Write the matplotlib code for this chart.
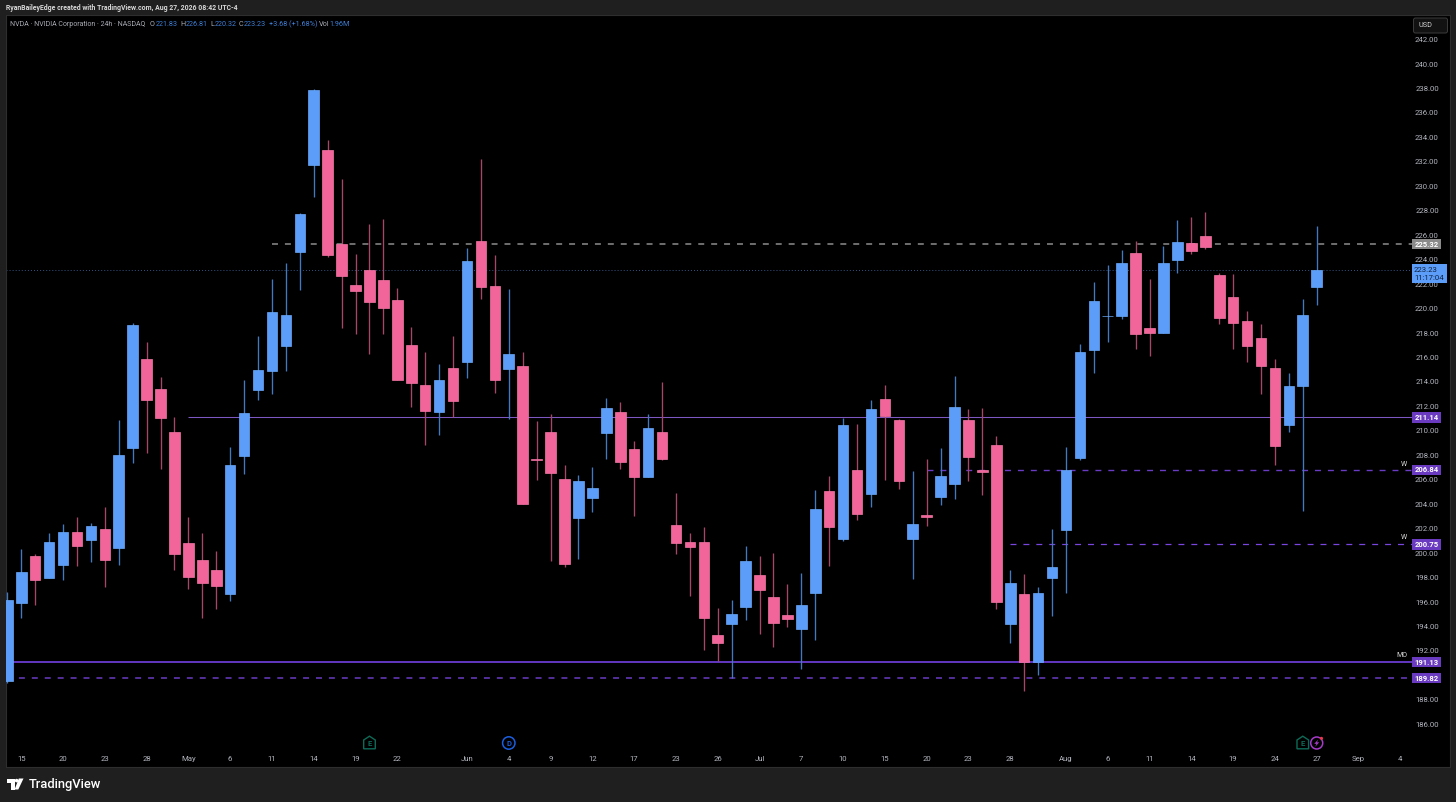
import numpy as np
import matplotlib
matplotlib.use("Agg")
import matplotlib.pyplot as plt
from matplotlib.patches import Rectangle, Polygon, Circle, FancyBboxPatch

plt.rcParams['lines.scale_dashes'] = False
plt.rcParams['font.family'] = ['Roboto', 'DejaVu Sans']

highs = [196.88,200.40,199.97,201.69,202.40,202.97,202.50,203.81,210.93,218.86,
         217.31,214.45,211.17,202.99,201.69,200.21,208.70,214.20,217.80,222.46,
         223.77,227.88,237.98,233.80,230.64,224.51,226.96,227.39,221.72,218.51,
         216.51,215.51,217.80,225.00,232.30,224.42,221.62,216.51,210.85,211.42,
         207.25,206.43,207.06,212.70,212.43,209.21,211.39,214.04,204.96,201.69,
         202.15,195.55,196.18,200.62,199.80,200.05,197.51,198.39,205.20,206.35,
         211.12,210.58,212.54,213.82,210.99,206.76,207.74,208.61,214.53,211.85,
         211.91,209.62,198.66,198.31,197.25,202.01,208.72,217.12,222.24,223.63,
         224.81,225.57,222.46,225.16,227.26,227.51,227.92,222.95,222.87,219.84,
         218.76,215.92,214.77,220.82,226.81]
lows = [189.42,194.76,195.80,198.03,197.82,199.01,199.34,197.25,199.07,207.39,
        208.23,206.95,198.68,197.11,194.76,195.49,196.15,206.54,212.56,213.03,
        214.96,221.59,229.19,224.28,218.43,217.94,216.30,217.99,214.20,212.02,
        208.88,209.70,211.15,214.34,220.85,213.16,211.03,204.03,206.00,199.37,
        198.88,199.56,203.43,207.74,206.95,203.08,206.24,207.66,199.99,196.56,
        192.12,191.22,189.80,194.55,193.45,192.34,193.97,190.59,192.91,198.99,
        201.01,202.77,203.79,206.05,205.28,197.95,202.26,204.00,204.49,205.96,
        204.79,195.47,192.71,188.76,190.10,194.92,196.78,207.68,214.80,217.33,
        219.19,216.76,216.19,218.04,222.98,224.53,224.91,218.76,216.76,215.67,
        213.08,207.25,209.95,203.51,220.32]
opens = [189.58,195.96,199.80,198.03,199.07,201.74,201.14,201.99,200.43,208.61,
         215.89,213.49,209.97,200.84,199.45,198.64,196.72,207.98,213.41,214.91,
         216.98,224.69,231.81,233.01,225.32,221.99,223.17,222.38,220.72,217.04,
         213.82,211.61,215.18,215.65,225.54,221.89,215.07,215.34,207.74,209.92,
         206.10,202.89,204.52,209.86,211.58,208.56,206.24,209.92,202.37,200.97,
         200.93,193.37,194.27,195.66,198.28,196.43,194.95,193.86,196.80,205.12,
         201.22,206.84,204.85,212.62,210.93,201.22,203.16,204.66,205.72,210.93,
         206.86,208.88,194.27,196.70,191.14,198.03,201.93,207.84,216.65,219.41,
         219.46,224.56,218.45,218.04,224.01,225.41,225.98,222.79,220.99,219.03,
         217.63,215.21,210.54,213.73,221.83]
closes = [196.21,198.47,197.87,200.97,201.74,200.65,202.23,199.45,208.09,218.72,
          212.59,211.12,199.99,198.09,197.62,197.38,207.25,211.48,215.02,219.74,
          219.49,227.78,237.89,224.45,222.73,221.50,220.55,220.09,214.22,213.95,
          211.66,214.20,212.46,223.96,221.81,214.22,216.30,204.03,207.69,206.59,
          199.13,205.91,205.39,211.89,207.52,206.29,210.30,207.74,200.87,200.57,
          194.71,192.71,195.09,199.37,197.05,194.35,194.65,195.82,203.62,202.20,
          210.54,203.22,211.80,211.28,205.96,202.42,202.97,206.32,211.99,207.93,
          206.70,196.07,197.60,191.14,196.75,198.93,206.81,216.49,220.66,219.46,
          223.77,217.99,218.04,223.74,225.46,224.73,225.10,219.25,218.86,217.01,
          215.34,208.80,213.68,219.54,223.23]

price_ticks = list(range(186, 244, 2))
date_labels = ['15','20','23','28','May','6','11','14','19','22','Jun','4','9','12','17',
               '23','26','Jul','7','10','15','20','23','28','Aug','6','11','14','19','24',
               '27','Sep','4']
date_index = [1,4,7,10,13,16,19,22,25,28,33,36,39,42,45,48,51,54,57,60,63,66,69,72,76,79,
              82,85,88,91,94,97,100]
level_prices = [225.32, 211.14, 206.84, 200.75, 191.13, 189.82]
level_start = [19, 13, 66, 72, -1, -1]
current_price = 223.23
event_index = [26, 36, 93, 94]

BLUE, PINK = '#5b9df8', '#f2659a'
W, H = 1456, 802
L, R, T, B = 5.5, 1450, 15, 767
fig = plt.figure(figsize=(W/100, H/100), dpi=100, facecolor='#1f1f1f')
ax = fig.add_axes([L/W, 1-B/H, (R-L)/W, (B-T)/H], facecolor='black')
px_per_bar = 13.93
x0 = 7.3
ax.set_xlim((L-x0)/px_per_bar, (R-x0)/px_per_bar)
ax.set_ylim(245.28-0.08179*B, 245.28-0.08179*T)
ax.set_xticks([]); ax.set_yticks([])
for s in ax.spines.values():
    s.set_color('#2e2e2e'); s.set_linewidth(0.8)
def fx(px):
    return (px-x0)/px_per_bar
ax_right = fx(1412)

x = np.arange(len(opens))
o, h, l, c = map(np.array, (opens, highs, lows, closes))
up = c >= o
ax.vlines(x[up], l[up], h[up], color='#4379c0', lw=0.95, zorder=3)
ax.vlines(x[~up], l[~up], h[~up], color='#a84668', lw=0.95, zorder=3)
ax.bar(x[up], (c-o)[up], bottom=o[up], width=0.76, color=BLUE, edgecolor='#6aa9fb', lw=0.5, zorder=4)
ax.bar(x[~up], (o-c)[~up], bottom=c[~up], width=0.76, color=PINK, edgecolor='#f576a5', lw=0.5, zorder=4)

# levels
ax.hlines(level_prices[0], level_start[0], ax_right, color='#8c8c8c', lw=1.1, ls=(0,(4.3,5.0)), zorder=2)
ax.hlines(current_price, fx(L), ax_right, color='#3f639c', lw=0.6, ls=(0,(0.7,1.5)), zorder=2)
ax.hlines(level_prices[1], level_start[1], ax_right, color='#7e57c2', lw=0.75, zorder=2)
ax.hlines(level_prices[2], level_start[2], ax_right, color='#6a3bc4', lw=1.0, ls=(0,(4.3,5.0)), zorder=2)
ax.hlines(level_prices[3], level_start[3], ax_right, color='#7a46e0', lw=0.9, ls=(0,(4.3,5.0)), zorder=2)
ax.hlines(level_prices[4], fx(L), ax_right, color='#6a3bd0', lw=1.3, zorder=2)
ax.hlines(level_prices[5], fx(L), ax_right, color='#6a3bc4', lw=1.1, ls=(0,(4.3,5.0)), zorder=2)

# price axis
for p in price_ticks:
    ax.text(fx(1427), p, f'{p:.2f}', color='#b2b5be', fontsize=5.6, ha='center', va='center', zorder=5)
for i, lab in zip(date_index, date_labels):
    ax.text(i, 245.28-0.08179*759, lab, color='#b2b5be', fontsize=5.6, ha='center', va='center', zorder=5)

# level boxes
box_h = 10.5*0.08179
box_x = fx(1412)
box_w = fx(1441)-fx(1412)
cols = ['#8a8a8a', '#6a3bc0', '#6a3bc0', '#6a3bc0', '#6a3bc0', '#6a3bc0']
for p, col in zip(level_prices, cols):
    ax.add_patch(Rectangle((box_x, p-box_h/2), box_w, box_h, fc=col, ec='none', zorder=6))
    ax.text(fx(1426.5), p, f'{p:.2f}', color='white', fontsize=5.5, fontweight='bold', ha='center', va='center', zorder=7)
ax.add_patch(Rectangle((box_x, current_price-13.4*0.08179), fx(1447)-fx(1412), 19*0.08179, fc=BLUE, ec='none', zorder=6))
ax.text(fx(1426), current_price-0.02, f'{current_price:.2f}', color='#0f2140', fontsize=5.6, ha='center', va='center', zorder=7)
ax.text(fx(1429), current_price-0.69, '11:17:04', color='#0f2140', fontsize=5.6, ha='center', va='center', zorder=7)
ax.text(fx(1404), level_prices[2]+0.46, 'W', color='#d8d8d8', fontsize=5, ha='center', va='center', zorder=5)
ax.text(fx(1404), level_prices[3]+0.55, 'W', color='#d8d8d8', fontsize=5, ha='center', va='center', zorder=5)
ax.text(fx(1402), level_prices[4]+0.5, 'MO', color='#d8d8d8', fontsize=5, ha='center', va='center', zorder=5)

# overlay in pixels
ov = fig.add_axes([0,0,1,1], facecolor='none')
ov.set_xlim(0, W); ov.set_ylim(H, 0); ov.axis('off')

ov.text(6, 8.5, 'RyanBaileyEdge created with TradingView.com, Aug 27, 2026 08:42 UTC-4',
        color='#d8d8d8', fontsize=4.95, fontweight='bold', va='center')
lg = '#a9acb4'; bl = '#3f7fd6'
ov.text(10, 24.5, 'NVDA · NVIDIA Corporation · 24h · NASDAQ', color=lg, fontsize=5.05, va='center')
for xx, t, col in [(150,'O',lg),(155.5,'221.83',bl),(180,'H',lg),(185.5,'226.81',bl),(210,'L',lg),
                   (215,'220.32',bl),(239,'C',lg),(244,'223.23',bl),(269,'+3.68 (+1.68%)',bl),
                   (319,'Vol',lg),(329,'1.96M',bl)]:
    ov.text(xx, 24.5, t, color=col, fontsize=5.2, va='center')

ov.add_patch(FancyBboxPatch((1413.5, 18), 34, 15, boxstyle='round,pad=0,rounding_size=2', fc='#121212', ec='#3c3c3c', lw=0.7))
ov.text(1425, 25.5, 'USD', color='#d0d0d0', fontsize=5.2, ha='center', va='center')

# event icons
def house(cx, cy, col):
    ov.add_patch(Polygon([[cx-5.8,cy-3],[cx,cy-6.8],[cx+5.8,cy-3],[cx+5.8,cy+5.8],[cx-5.8,cy+5.8]], closed=True, fc='none', ec=col, lw=1.0))
    ov.text(cx, cy+0.5, 'E', color=col, fontsize=5.5, ha='center', va='center', fontweight='bold')
def px_of(i):
    return x0 + px_per_bar*i
house(px_of(event_index[0]), 743, '#0e6b58')
ov.add_patch(Circle((px_of(event_index[1]), 743), 6.2, fc='none', ec='#1a5fe0', lw=1.1))
ov.text(px_of(event_index[1]), 743, 'D', color='#1a5fe0', fontsize=5.5, ha='center', va='center', fontweight='bold')
house(px_of(event_index[2]), 743, '#0e6b58')
cx = px_of(event_index[3])
ov.add_patch(Circle((cx, 743), 6, fc='none', ec='#a63bc9', lw=1.1, zorder=3))
ov.add_patch(Polygon([[cx+1.5,739.5],[cx-2.5,743.8],[cx-0.3,743.8],[cx-1.5,746.8],[cx+2.5,742.3],[cx+0.3,742.3]], closed=True, fc='#a63bc9', ec='none', zorder=3))
ov.add_patch(Circle((cx+4.8, 738.3), 1.5, fc='#f23645', ec='none', zorder=4))

# logo
ov.add_patch(Polygon([[7,778.5],[14.5,778.5],[14.5,789.5],[10.8,789.5],[10.8,783],[7,783]], closed=True, fc='white', ec='none'))
ov.add_patch(Circle((16.6,780.6), 1.8, fc='white', ec='none'))
ov.add_patch(Polygon([[18.8,778.5],[23.5,778.5],[18.3,789.5],[14.6,789.5]], closed=True, fc='white', ec='none'))
ov.text(29, 784.5, 'TradingView', color='white', fontsize=9.3, fontweight='medium', va='center')

fig.savefig('out.png', dpi=100, facecolor=fig.get_facecolor())
